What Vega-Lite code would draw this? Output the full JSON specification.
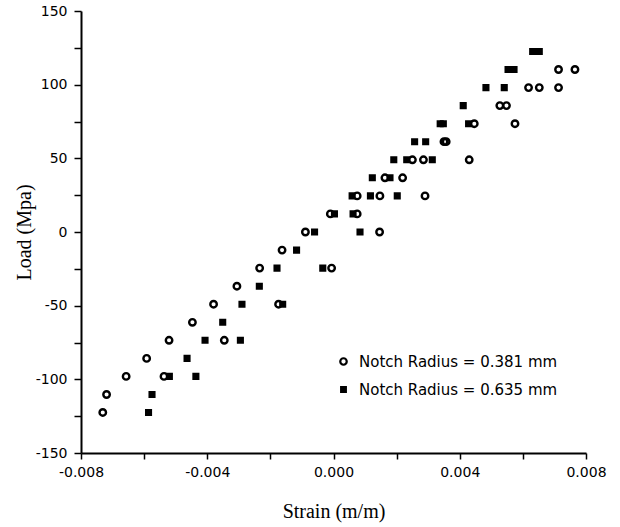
{
  "$schema": "https://vega.github.io/schema/vega-lite/v6.json",
  "width": 505,
  "height": 442,
  "autosize": "none",
  "padding": {"left": 81, "top": 11, "right": 34, "bottom": 74},
  "background": "white",
  "config": {
    "view": {"stroke": null},
    "axis": {
      "grid": false,
      "domainColor": "black",
      "domainWidth": 2,
      "tickColor": "black",
      "tickWidth": 1.5,
      "labelFont": "DejaVu Sans",
      "labelFontSize": 14,
      "labelColor": "black",
      "labelFlush": false,
      "labelOverlap": false,
      "labelBound": false,
      "titleFont": "Liberation Serif",
      "titleFontSize": 20,
      "titleFontWeight": "normal",
      "titleColor": "black"
    },
    "legend": {
      "labelFont": "DejaVu Sans",
      "labelFontSize": 15,
      "labelColor": "black",
      "labelLimit": 400,
      "symbolStrokeWidth": 2.2,
      "labelOffset": 8,
      "rowPadding": 12,
      "padding": 0
    }
  },
  "data": {
    "values": [
      {"strain": -0.00731, "load": -122.5, "series": "Notch Radius = 0.381 mm"},
      {"strain": -0.00719, "load": -110.3, "series": "Notch Radius = 0.381 mm"},
      {"strain": -0.00657, "load": -98, "series": "Notch Radius = 0.381 mm"},
      {"strain": -0.00592, "load": -85.8, "series": "Notch Radius = 0.381 mm"},
      {"strain": -0.00537, "load": -98, "series": "Notch Radius = 0.381 mm"},
      {"strain": -0.00521, "load": -73.5, "series": "Notch Radius = 0.381 mm"},
      {"strain": -0.00447, "load": -61.3, "series": "Notch Radius = 0.381 mm"},
      {"strain": -0.0038, "load": -49, "series": "Notch Radius = 0.381 mm"},
      {"strain": -0.00346, "load": -73.5, "series": "Notch Radius = 0.381 mm"},
      {"strain": -0.00306, "load": -36.8, "series": "Notch Radius = 0.381 mm"},
      {"strain": -0.00234, "load": -24.5, "series": "Notch Radius = 0.381 mm"},
      {"strain": -0.00174, "load": -49, "series": "Notch Radius = 0.381 mm"},
      {"strain": -0.00163, "load": -12.3, "series": "Notch Radius = 0.381 mm"},
      {"strain": -0.00089, "load": 0, "series": "Notch Radius = 0.381 mm"},
      {"strain": -0.0001, "load": 12.3, "series": "Notch Radius = 0.381 mm"},
      {"strain": -0.00006, "load": -24.5, "series": "Notch Radius = 0.381 mm"},
      {"strain": 0.00075, "load": 24.5, "series": "Notch Radius = 0.381 mm"},
      {"strain": 0.00075, "load": 12.3, "series": "Notch Radius = 0.381 mm"},
      {"strain": 0.00147, "load": 24.5, "series": "Notch Radius = 0.381 mm"},
      {"strain": 0.00146, "load": 0, "series": "Notch Radius = 0.381 mm"},
      {"strain": 0.00163, "load": 36.8, "series": "Notch Radius = 0.381 mm"},
      {"strain": 0.00219, "load": 36.8, "series": "Notch Radius = 0.381 mm"},
      {"strain": 0.0025, "load": 49, "series": "Notch Radius = 0.381 mm"},
      {"strain": 0.00285, "load": 49, "series": "Notch Radius = 0.381 mm"},
      {"strain": 0.0029, "load": 24.5, "series": "Notch Radius = 0.381 mm"},
      {"strain": 0.0035, "load": 61.3, "series": "Notch Radius = 0.381 mm"},
      {"strain": 0.00357, "load": 61.3, "series": "Notch Radius = 0.381 mm"},
      {"strain": 0.0043, "load": 49, "series": "Notch Radius = 0.381 mm"},
      {"strain": 0.00446, "load": 73.5, "series": "Notch Radius = 0.381 mm"},
      {"strain": 0.00527, "load": 85.8, "series": "Notch Radius = 0.381 mm"},
      {"strain": 0.00548, "load": 85.8, "series": "Notch Radius = 0.381 mm"},
      {"strain": 0.00575, "load": 73.5, "series": "Notch Radius = 0.381 mm"},
      {"strain": 0.00618, "load": 98, "series": "Notch Radius = 0.381 mm"},
      {"strain": 0.00652, "load": 98, "series": "Notch Radius = 0.381 mm"},
      {"strain": 0.00713, "load": 98, "series": "Notch Radius = 0.381 mm"},
      {"strain": 0.00713, "load": 110.3, "series": "Notch Radius = 0.381 mm"},
      {"strain": 0.00765, "load": 110.3, "series": "Notch Radius = 0.381 mm"},
      {"strain": -0.00586, "load": -122.5, "series": "Notch Radius = 0.635 mm"},
      {"strain": -0.00575, "load": -110.3, "series": "Notch Radius = 0.635 mm"},
      {"strain": -0.0052, "load": -98, "series": "Notch Radius = 0.635 mm"},
      {"strain": -0.00464, "load": -85.8, "series": "Notch Radius = 0.635 mm"},
      {"strain": -0.00436, "load": -98, "series": "Notch Radius = 0.635 mm"},
      {"strain": -0.00407, "load": -73.5, "series": "Notch Radius = 0.635 mm"},
      {"strain": -0.00351, "load": -61.3, "series": "Notch Radius = 0.635 mm"},
      {"strain": -0.00295, "load": -73.5, "series": "Notch Radius = 0.635 mm"},
      {"strain": -0.0029, "load": -49, "series": "Notch Radius = 0.635 mm"},
      {"strain": -0.00235, "load": -36.8, "series": "Notch Radius = 0.635 mm"},
      {"strain": -0.00179, "load": -24.5, "series": "Notch Radius = 0.635 mm"},
      {"strain": -0.00161, "load": -49, "series": "Notch Radius = 0.635 mm"},
      {"strain": -0.00117, "load": -12.3, "series": "Notch Radius = 0.635 mm"},
      {"strain": -0.0006, "load": 0, "series": "Notch Radius = 0.635 mm"},
      {"strain": -0.00034, "load": -24.5, "series": "Notch Radius = 0.635 mm"},
      {"strain": 0.00003, "load": 12.3, "series": "Notch Radius = 0.635 mm"},
      {"strain": 0.00062, "load": 12.3, "series": "Notch Radius = 0.635 mm"},
      {"strain": 0.00059, "load": 24.5, "series": "Notch Radius = 0.635 mm"},
      {"strain": 0.00084, "load": 0, "series": "Notch Radius = 0.635 mm"},
      {"strain": 0.00117, "load": 24.5, "series": "Notch Radius = 0.635 mm"},
      {"strain": 0.00123, "load": 36.8, "series": "Notch Radius = 0.635 mm"},
      {"strain": 0.00179, "load": 36.8, "series": "Notch Radius = 0.635 mm"},
      {"strain": 0.00191, "load": 49, "series": "Notch Radius = 0.635 mm"},
      {"strain": 0.00202, "load": 24.5, "series": "Notch Radius = 0.635 mm"},
      {"strain": 0.00232, "load": 49, "series": "Notch Radius = 0.635 mm"},
      {"strain": 0.00257, "load": 61.3, "series": "Notch Radius = 0.635 mm"},
      {"strain": 0.00292, "load": 61.3, "series": "Notch Radius = 0.635 mm"},
      {"strain": 0.00313, "load": 49, "series": "Notch Radius = 0.635 mm"},
      {"strain": 0.00338, "load": 73.5, "series": "Notch Radius = 0.635 mm"},
      {"strain": 0.00348, "load": 73.5, "series": "Notch Radius = 0.635 mm"},
      {"strain": 0.00411, "load": 85.8, "series": "Notch Radius = 0.635 mm"},
      {"strain": 0.00428, "load": 73.5, "series": "Notch Radius = 0.635 mm"},
      {"strain": 0.00483, "load": 98, "series": "Notch Radius = 0.635 mm"},
      {"strain": 0.00541, "load": 98, "series": "Notch Radius = 0.635 mm"},
      {"strain": 0.00553, "load": 110.3, "series": "Notch Radius = 0.635 mm"},
      {"strain": 0.00572, "load": 110.3, "series": "Notch Radius = 0.635 mm"},
      {"strain": 0.00631, "load": 122.5, "series": "Notch Radius = 0.635 mm"},
      {"strain": 0.00652, "load": 122.5, "series": "Notch Radius = 0.635 mm"}
    ]
  },
  "mark": {"type": "point", "filled": true, "strokeWidth": 2.4, "opacity": 1},
  "encoding": {
    "x": {
      "field": "strain",
      "type": "quantitative",
      "scale": {"domain": [-0.008, 0.008], "nice": false, "zero": false},
      "axis": {
        "title": "Strain (m/m)",
        "values": [-0.008, -0.006, -0.004, -0.002, 0, 0.002, 0.004, 0.006, 0.008],
        "labelExpr": "round(datum.value * 1000) % 4 == 0 ? replace(format(datum.value, '.3f'), '\u2212', '-') : ''",
        "tickSize": 6,
        "labelPadding": 6,
        "titlePadding": 22
      }
    },
    "y": {
      "field": "load",
      "type": "quantitative",
      "scale": {"domain": [-150, 150], "nice": false, "zero": false},
      "axis": {
        "title": "Load (Mpa)",
        "values": [-150, -125, -100, -75, -50, -25, 0, 25, 50, 75, 100, 125, 150],
        "labelExpr": "datum.value % 50 == 0 ? '' + datum.value : ''",
        "tickSize": 7,
        "labelPadding": 7,
        "titlePadding": 1
      }
    },
    "shape": {
      "field": "series",
      "type": "nominal",
      "scale": {"range": ["circle", "square"]},
      "legend": {"title": null, "orient": "none", "legendX": 255, "legendY": 343}
    },
    "fill": {
      "field": "series",
      "type": "nominal",
      "scale": {"range": ["transparent", "black"]},
      "legend": {"title": null, "orient": "none", "legendX": 255, "legendY": 343}
    },
    "stroke": {
      "field": "series",
      "type": "nominal",
      "scale": {"range": ["black", "black"]},
      "legend": {"title": null, "orient": "none", "legendX": 255, "legendY": 343}
    },
    "size": {
      "field": "series",
      "type": "nominal",
      "scale": {"range": [42, 22]},
      "legend": {"title": null, "orient": "none", "legendX": 255, "legendY": 343}
    }
  }
}
